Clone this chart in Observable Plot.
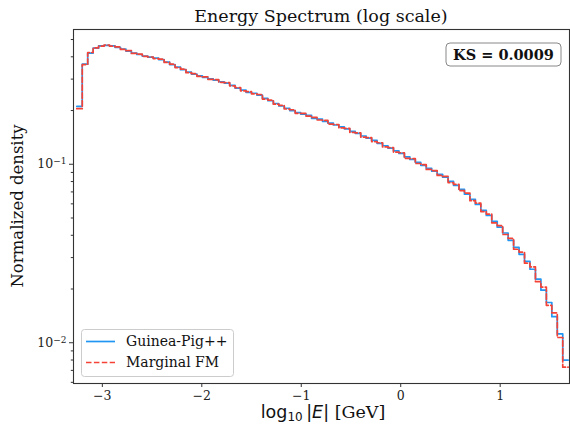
<!DOCTYPE html>
<html>
<head>
<meta charset="utf-8">
<script src="https://cdn.jsdelivr.net/npm/d3@7"></script>
<script src="https://cdn.jsdelivr.net/npm/@observablehq/plot@0.6"></script>
<style>
  html, body { margin: 0; padding: 0; background: #fff; }
  #chart { width: 570px; height: 430px; }
</style>
</head>
<body>
<div id="chart"></div>
<script>
// ---- data ----
const binStart = -3.257;
const binWidth = 0.0549;
const guineaPig = [0.211,0.364,0.42,0.447,0.461,0.464,0.461,0.452,0.442,0.431,
  0.42,0.412,0.404,0.398,0.393,0.386,0.374,0.362,0.350,0.339,
  0.328,0.320,0.313,0.307,0.301,0.296,0.290,0.285,0.277,0.267,
  0.260,0.253,0.250,0.244,0.234,0.227,0.219,0.212,0.206,0.200,
  0.195,0.191,0.188,0.181,0.179,0.174,0.170,0.166,0.162,0.158,
  0.153,0.149,0.144,0.140,0.136,0.131,0.127,0.123,0.119,0.115,
  0.110,0.1065,0.1026,0.0987,0.0950,0.0914,0.0879,0.0846,0.0802,0.0762,
  0.0724,0.0679,0.0636,0.0596,0.0552,0.0517,0.0479,0.0444,0.0412,0.0375,
  0.0342,0.0313,0.0286,0.0258,0.0227,0.0197,0.0168,0.0140,0.0112,0.0080];
const marginalFM = [0.205,0.362,0.423,0.449,0.459,0.466,0.459,0.455,0.440,0.433,
  0.418,0.414,0.402,0.399,0.391,0.388,0.372,0.364,0.348,0.341,
  0.326,0.322,0.311,0.309,0.299,0.298,0.288,0.287,0.275,0.269,
  0.258,0.255,0.248,0.246,0.232,0.229,0.217,0.214,0.204,0.202,
  0.193,0.193,0.186,0.183,0.177,0.176,0.168,0.167,0.160,0.159,
  0.151,0.150,0.142,0.141,0.134,0.132,0.125,0.124,0.117,0.116,
  0.108,0.1075,0.1010,0.0995,0.0935,0.0922,0.0866,0.0855,0.0790,0.0772,
  0.0712,0.0690,0.0625,0.0605,0.0543,0.0526,0.0470,0.0453,0.0404,0.0384,
  0.0334,0.0322,0.0279,0.0266,0.0220,0.0205,0.0162,0.0147,0.0107,0.0073];
const xTicks = [-3, -2, -1, 0, 1];
const yMajor = [0.01, 0.1];
const yMinor = [0.006,0.007,0.008,0.009,0.02,0.03,0.04,0.05,0.06,0.07,0.08,0.09,0.2,0.3,0.4,0.5];
const seriesNames = ["Guinea-Pig++", "Marginal FM"];
const colors = ["#2196F3", "#F44336"];
const ksText = "KS = 0.0009";

// ---- build step points ----
function steps(vals) {
  const pts = vals.map((v, i) => ({x: binStart + i * binWidth, y: v}));
  pts.push({x: binStart + vals.length * binWidth, y: vals[vals.length - 1]});
  return pts;
}
const gpPts = steps(guineaPig);
const fmPts = steps(marginalFM);

const serif = "'DejaVu Serif', serif";
const sans = "'DejaVu Sans', sans-serif";
const minus = d => d < 0 ? "\u2212" + Math.abs(d) : String(d);

const plot = Plot.plot({
  width: 570, height: 430,
  marginLeft: 73, marginRight: 1, marginTop: 29, marginBottom: 47,
  style: {fontFamily: serif, fontSize: "12.5px", background: "white", color: "#222"},
  x: {domain: [-3.29, 1.697]},
  y: {type: "log", domain: [0.00591, 0.569]},
  marks: [
    Plot.axisX({ticks: xTicks, tickSize: 4, tickPadding: 4, tickFormat: minus, label: null, stroke: "#333"}),
    Plot.axisY({ticks: yMinor, tickSize: 2.2, tickFormat: () => "", label: null, stroke: "#333"}),
    Plot.axisY({ticks: yMajor, tickSize: 4, tickPadding: 3, tickFormat: d => "EXP" + Math.round(Math.log10(d)), label: null, stroke: "#333"}),
    Plot.line(gpPts, {x: "x", y: "y", stroke: colors[0], strokeWidth: 1.7, curve: "step-after", clip: true}),
    Plot.line(fmPts, {x: "x", y: "y", stroke: colors[1], strokeWidth: 1.7, strokeDasharray: "5.5,2.4", curve: "step-after", clip: true}),
    Plot.frame({stroke: "#333", strokeWidth: 1.1})
  ]
});
document.getElementById("chart").appendChild(plot);

const svg = d3.select(plot);
// superscript y tick labels
svg.selectAll("text").each(function() {
  const t = d3.select(this);
  const s = t.text();
  if (s.startsWith("EXP")) {
    const e = Number(s.slice(3));
    t.text(null);
    t.append("tspan").text("10");
    t.append("tspan").attr("dy", "-0.45em").attr("font-size", "9px").text(minus(e));
  }
});

// title
svg.append("text").attr("x", 321).attr("y", 22).attr("text-anchor", "middle")
  .attr("font-family", serif).attr("font-size", "17.5px").attr("fill", "#111")
  .text("Energy Spectrum (log scale)");

// y label
svg.append("text").attr("transform", "translate(23,206) rotate(-90)").attr("text-anchor", "middle")
  .attr("font-family", serif).attr("font-size", "16.5px").attr("fill", "#111")
  .text("Normalized density");

// x label
const xl = svg.append("text").attr("x", 323).attr("y", 418).attr("text-anchor", "middle")
  .attr("font-size", "17.5px").attr("fill", "#111");
xl.append("tspan").attr("font-family", sans).text("log");
xl.append("tspan").attr("font-family", sans).attr("font-size", "12px").attr("dy", "3").text("10");
xl.append("tspan").attr("font-family", sans).attr("dy", "-3").text("\u2009|");
xl.append("tspan").attr("font-family", sans).attr("font-style", "italic").text("E");
xl.append("tspan").attr("font-family", sans).text("|");
xl.append("tspan").attr("font-family", serif).text(" [GeV]");

// KS box
const ks = svg.append("g");
ks.append("rect").attr("x", 446).attr("y", 43).attr("width", 115).attr("height", 23).attr("rx", 4)
  .attr("fill", "white").attr("stroke", "#888").attr("stroke-width", 1);
ks.append("text").attr("x", 503.5).attr("y", 60).attr("text-anchor", "middle")
  .attr("font-family", serif).attr("font-weight", "bold").attr("font-size", "14.5px").attr("fill", "#111")
  .text(ksText);

// legend
const lg = svg.append("g");
lg.append("rect").attr("x", 81.5).attr("y", 329.5).attr("width", 152).attr("height", 47).attr("rx", 3)
  .attr("fill", "white").attr("fill-opacity", 0.85).attr("stroke", "#ccc").attr("stroke-width", 1);
seriesNames.forEach((name, i) => {
  const y = 341.5 + i * 21;
  lg.append("line").attr("x1", 86).attr("x2", 115).attr("y1", y).attr("y2", y)
    .attr("stroke", colors[i]).attr("stroke-width", 1.7)
    .attr("stroke-dasharray", i === 1 ? "5.5,2.4" : null);
  lg.append("text").attr("x", 126).attr("y", y + 4.5).attr("text-anchor", "start")
    .attr("font-family", serif).attr("font-size", "14px").attr("fill", "#111").text(name);
});
</script>
</body>
</html>
